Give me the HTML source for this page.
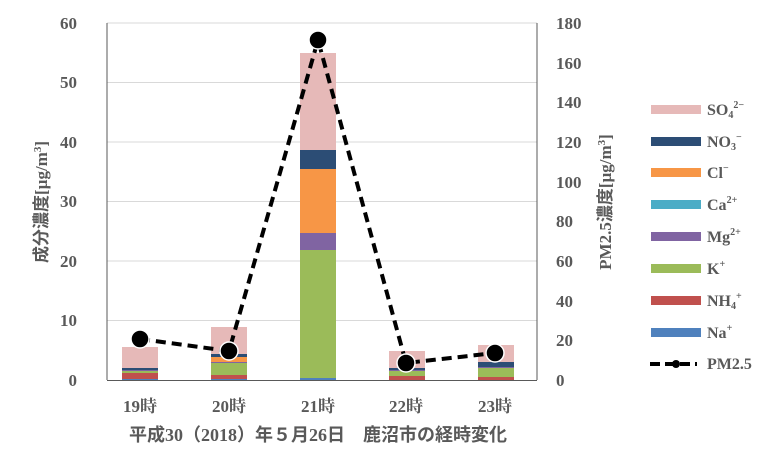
<!DOCTYPE html>
<html><head><meta charset="utf-8"><style>
body{margin:0;background:#fff}
svg{display:block}
text{font-family:"Liberation Serif","Noto Serif CJK SC","Noto Sans CJK JP",serif;font-weight:bold;fill:#595959}
.j{font-family:"Liberation Serif","Noto Sans CJK JP",sans-serif}
</style></head><body>
<svg width="778" height="472" viewBox="0 0 778 472">
<g stroke="#d9d9d9" stroke-width="1">
<line x1="107" x2="537" y1="320.5" y2="320.5"/><line x1="107" x2="537" y1="261" y2="261"/>
<line x1="107" x2="537" y1="201.5" y2="201.5"/><line x1="107" x2="537" y1="142" y2="142"/>
<line x1="107" x2="537" y1="82.5" y2="82.5"/><line x1="107" x2="537" y1="23" y2="23"/>
</g>
<line x1="107" x2="107" y1="23" y2="380" stroke="#595959"/>
<line x1="537" x2="537" y1="23" y2="380" stroke="#595959"/>
<g>
<rect x="122" y="347" width="36" height="21" fill="#e6b9b8"/>
<rect x="122" y="368" width="36" height="2" fill="#2c4d75"/>
<rect x="122" y="370" width="36" height="1" fill="#8064a2"/>
<rect x="122" y="371" width="36" height="2" fill="#9bbb59"/>
<rect x="122" y="373" width="36" height="6" fill="#c0504d"/>
<rect x="122" y="379" width="36" height="1" fill="#4f81bd"/>

<rect x="211" y="327" width="36" height="27" fill="#e6b9b8"/>
<rect x="211" y="354" width="36" height="3" fill="#2c4d75"/>
<rect x="211" y="357" width="36" height="5" fill="#f79646"/>
<rect x="211" y="362" width="36" height="1" fill="#8064a2"/>
<rect x="211" y="363" width="36" height="12" fill="#9bbb59"/>
<rect x="211" y="375" width="36" height="4" fill="#c0504d"/>
<rect x="211" y="379" width="36" height="1" fill="#4f81bd"/>

<rect x="300" y="53" width="36" height="97" fill="#e6b9b8"/>
<rect x="300" y="150" width="36" height="19" fill="#2c4d75"/>
<rect x="300" y="169" width="36" height="64" fill="#f79646"/>
<rect x="300" y="233" width="36" height="17" fill="#8064a2"/>
<rect x="300" y="250" width="36" height="128" fill="#9bbb59"/>
<rect x="300" y="378" width="36" height="2" fill="#4f81bd"/>

<rect x="389" y="351" width="36" height="17" fill="#e6b9b8"/>
<rect x="389" y="368" width="36" height="2" fill="#2c4d75"/>
<rect x="389" y="370" width="36" height="1" fill="#8064a2"/>
<rect x="389" y="371" width="36" height="5" fill="#9bbb59"/>
<rect x="389" y="376" width="36" height="4" fill="#c0504d"/>

<rect x="478" y="345" width="36" height="17" fill="#e6b9b8"/>
<rect x="478" y="362" width="36" height="5" fill="#2c4d75"/>
<rect x="478" y="367" width="36" height="1" fill="#8064a2"/>
<rect x="478" y="368" width="36" height="9" fill="#9bbb59"/>
<rect x="478" y="377" width="36" height="3" fill="#c0504d"/>
</g>
<line x1="107" x2="537" y1="380.5" y2="380.5" stroke="#595959"/>
<polyline points="140,339 229,351 318,40 406,363 495,353" fill="none" stroke="#000" stroke-width="4" stroke-dasharray="10,6"/>
<g fill="#000" stroke="#fff" stroke-width="1.5">
<circle cx="140" cy="339" r="9"/><circle cx="229" cy="351" r="9"/><circle cx="318" cy="40" r="9"/><circle cx="406" cy="363" r="9"/><circle cx="495" cy="353" r="9"/>
</g>
<g font-size="17" text-anchor="end">
<text x="77" y="386">0</text><text x="77" y="326">10</text><text x="77" y="267">20</text>
<text x="77" y="207">30</text><text x="77" y="148">40</text><text x="77" y="88">50</text><text x="77" y="29">60</text>
</g>
<g font-size="17" text-anchor="start">
<text x="556" y="386">0</text><text x="556" y="346">20</text><text x="556" y="307">40</text>
<text x="556" y="267">60</text><text x="556" y="227">80</text><text x="556" y="188">100</text>
<text x="556" y="148">120</text><text x="556" y="108">140</text><text x="556" y="69">160</text><text x="556" y="29">180</text>
</g>
<text class="j" transform="translate(47,202) rotate(-90)" font-size="17" text-anchor="middle">成分濃度[µg/m<tspan font-size="11" dy="-6">3</tspan><tspan dy="6">]</tspan></text>
<text class="j" transform="translate(611,202) rotate(-90)" font-size="17" text-anchor="middle">PM2.5濃度[µg/m<tspan font-size="11" dy="-6">3</tspan><tspan dy="6">]</tspan></text>
<g font-size="17" text-anchor="middle" class="j">
<text x="140" y="412">19時</text><text x="229" y="412">20時</text><text x="318" y="412">21時</text>
<text x="406" y="412">22時</text><text x="495" y="412">23時</text>
</g>
<text class="j" x="318" y="441" font-size="18" text-anchor="middle">平成30（2018）年５月26日　鹿沼市の経時変化</text>
<g>
<rect x="651" y="105" width="50" height="9" fill="#e6b9b8"/>
<rect x="651" y="137" width="50" height="9" fill="#2c4d75"/>
<rect x="651" y="168" width="50" height="9" fill="#f79646"/>
<rect x="651" y="200" width="50" height="9" fill="#4bacc6"/>
<rect x="651" y="232" width="50" height="9" fill="#8064a2"/>
<rect x="651" y="264" width="50" height="9" fill="#9bbb59"/>
<rect x="651" y="296" width="50" height="9" fill="#c0504d"/>
<rect x="651" y="328" width="50" height="9" fill="#4f81bd"/>
<line x1="650" x2="697" y1="364" y2="364" stroke="#000" stroke-width="4" stroke-dasharray="10,5"/>
<circle cx="676" cy="364" r="4" fill="#000"/>
</g>
<g font-size="16">
<text x="707" y="115">SO<tspan font-size="10" dy="3">4</tspan><tspan font-size="10" dy="-10">2−</tspan></text>
<text x="707" y="147">NO<tspan font-size="10" dy="3">3</tspan><tspan font-size="10" dy="-10">−</tspan></text>
<text x="707" y="178">Cl<tspan font-size="10" dy="-7">−</tspan></text>
<text x="707" y="210">Ca<tspan font-size="10" dy="-7">2+</tspan></text>
<text x="707" y="242">Mg<tspan font-size="10" dy="-7">2+</tspan></text>
<text x="707" y="274">K<tspan font-size="10" dy="-7">+</tspan></text>
<text x="707" y="306">NH<tspan font-size="10" dy="3">4</tspan><tspan font-size="10" dy="-10">+</tspan></text>
<text x="707" y="338">Na<tspan font-size="10" dy="-7">+</tspan></text>
<text x="707" y="369">PM2.5</text>
</g>
</svg>
</body></html>
